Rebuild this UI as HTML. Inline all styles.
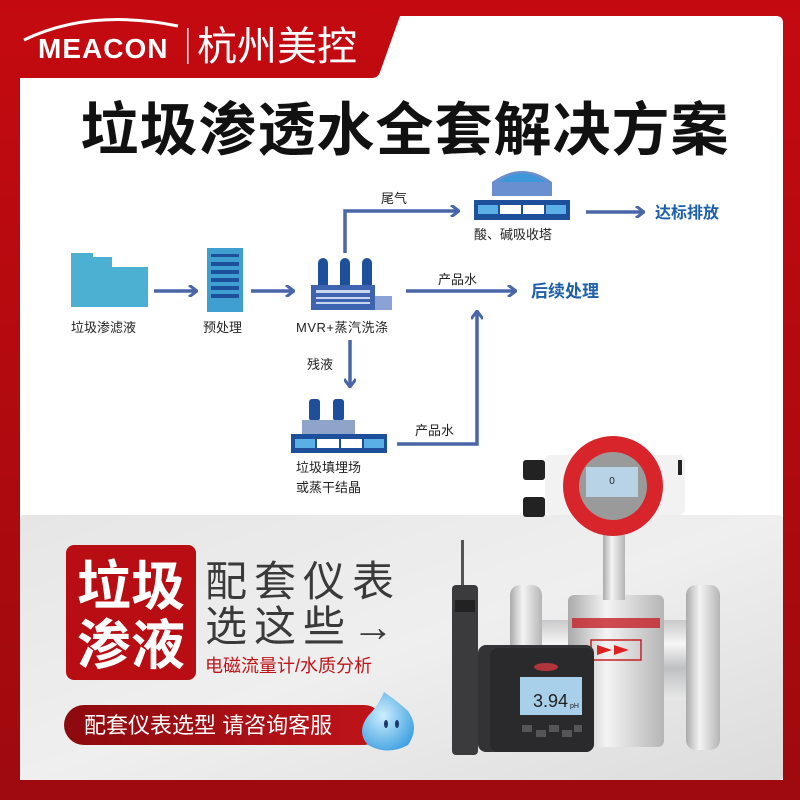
<!DOCTYPE html>
<html><head><meta charset="utf-8"><style>
body{margin:0;width:800px;height:800px;overflow:hidden;background:#b80a10}
svg{display:block}
text{font-family:"Liberation Sans","Noto Sans CJK SC",sans-serif}
</style></head><body>
<svg width="800" height="800" viewBox="0 0 800 800" xmlns="http://www.w3.org/2000/svg">
<defs>
<linearGradient id="bg" x1="0" y1="0" x2="0" y2="1"><stop offset="0" stop-color="#c40a10"/><stop offset="1" stop-color="#9e0a0e"/></linearGradient>
<linearGradient id="gray" x1="0" y1="0" x2="1" y2="1"><stop offset="0" stop-color="#e6e6e6"/><stop offset="0.5" stop-color="#efefef"/><stop offset="1" stop-color="#dcdcdc"/></linearGradient>
<linearGradient id="metal" x1="0" y1="0" x2="0" y2="1"><stop offset="0" stop-color="#c9c9cb"/><stop offset="0.3" stop-color="#f6f6f6"/><stop offset="0.6" stop-color="#bfc0c2"/><stop offset="1" stop-color="#e8e8e8"/></linearGradient>
<linearGradient id="metalh" x1="0" y1="0" x2="1" y2="0"><stop offset="0" stop-color="#aaa"/><stop offset="0.4" stop-color="#f4f4f4"/><stop offset="1" stop-color="#b5b5b5"/></linearGradient>
<linearGradient id="pill" x1="0" y1="0" x2="1" y2="0"><stop offset="0" stop-color="#8c0a0e"/><stop offset="1" stop-color="#c0141a"/></linearGradient>
<radialGradient id="drop" cx="0.4" cy="0.4" r="0.7"><stop offset="0" stop-color="#cdeefe"/><stop offset="1" stop-color="#3a9ee0"/></radialGradient>
<marker id="ah" markerWidth="10" markerHeight="12" refX="8" refY="6" orient="auto" markerUnits="userSpaceOnUse"><path d="M1,0 L9,6 L1,12" fill="none" stroke="#4866a8" stroke-width="3"/></marker>
</defs>
<rect width="800" height="800" fill="url(#bg)"/>
<!-- white panel -->
<path d="M20,78 L372,78 Q378,78 380,72 L400,16 L776,16 Q783,16 783,23 L783,780 L20,780 Z" fill="#fff"/>
<rect x="20" y="515" width="763" height="265" rx="4" fill="url(#gray)"/>
<!-- logo -->
<path d="M24,40 Q90,8 178,26" fill="none" stroke="#fff" stroke-width="3"/>
<text x="38" y="58" font-size="28" font-weight="bold" fill="#fff" letter-spacing="1">MEACON</text>
<rect x="187" y="28" width="1.5" height="36" fill="#fff"/>
<text x="197" y="60" font-size="40" fill="#fff">杭州美控</text>
<!-- title -->
<text x="405" y="150" font-size="58" font-weight="bold" fill="#111" text-anchor="middle" letter-spacing="1">垃圾渗透水全套解决方案</text>
<!-- flow -->
<g stroke="#4866a8" stroke-width="3.5" fill="none">
<line x1="154" y1="291" x2="196" y2="291" marker-end="url(#ah)"/>
<line x1="251" y1="291" x2="293" y2="291" marker-end="url(#ah)"/>
<polyline points="345,253 345,211 458,211" marker-end="url(#ah)"/>
<line x1="586" y1="212" x2="643" y2="212" marker-end="url(#ah)"/>
<line x1="406" y1="291" x2="515" y2="291" marker-end="url(#ah)"/>
<line x1="350" y1="340" x2="350" y2="386" marker-end="url(#ah)"/>
<polyline points="397,444 477,444 477,312" marker-end="url(#ah)"/>
</g>
<!-- folder -->
<path d="M71,253 L93,253 L93,257 L112,257 L112,267 L148,267 L148,307 L71,307 Z" fill="#4bb0d2"/>
<!-- tower -->
<rect x="207" y="248" width="36" height="64" fill="#3f9fd0"/>
<g fill="#1e4f9a"><rect x="211" y="254" width="28" height="3"/><rect x="211" y="262" width="28" height="4"/><rect x="211" y="270" width="28" height="4"/><rect x="211" y="278" width="28" height="4"/><rect x="211" y="286" width="28" height="4"/><rect x="211" y="294" width="28" height="4"/></g>
<!-- MVR -->
<g fill="#1e4f9a"><rect x="318" y="258" width="10" height="32" rx="5"/><rect x="340" y="258" width="10" height="32" rx="5"/><rect x="362" y="258" width="10" height="32" rx="5"/></g>
<rect x="311" y="285" width="64" height="25" fill="#3e63b0"/>
<rect x="375" y="296" width="17" height="14" fill="#8aa3d4"/>
<g fill="#c8d6f0"><rect x="316" y="290" width="54" height="3"/><rect x="316" y="297" width="54" height="2"/><rect x="316" y="302" width="54" height="2"/></g>
<!-- acid tower -->
<path d="M492,196 L492,182 Q522,160 552,182 L552,196 Z" fill="#6a8fd0"/>
<path d="M498,182 Q522,165 546,182Z" fill="#3d97d8"/>
<rect x="474" y="200" width="96" height="20" fill="#1e4f9a"/>
<g fill="#5ab0e6"><rect x="478" y="205" width="20" height="9"/><rect x="546" y="205" width="20" height="9"/></g>
<g fill="#fff"><rect x="500" y="205" width="21" height="9"/><rect x="523" y="205" width="21" height="9"/></g>
<!-- landfill -->
<g fill="#1e4f9a"><rect x="309" y="399" width="11" height="22" rx="3"/><rect x="333" y="399" width="11" height="22" rx="3"/></g>
<rect x="302" y="420" width="53" height="14" fill="#8ea4c9"/>
<rect x="291" y="434" width="96" height="19" fill="#1e4f9a"/>
<g fill="#5ab0e6"><rect x="295" y="439" width="20" height="9"/><rect x="364" y="439" width="20" height="9"/></g>
<g fill="#fff"><rect x="317" y="439" width="22" height="9"/><rect x="341" y="439" width="21" height="9"/></g>
<!-- labels -->
<g font-size="13" fill="#222">
<text x="71" y="332">垃圾渗滤液</text>
<text x="203" y="332">预处理</text>
<text x="296" y="332" letter-spacing="0.5">MVR+蒸汽洗涤</text>
<text x="381" y="203">尾气</text>
<text x="474" y="239">酸、碱吸收塔</text>
<text x="438" y="284">产品水</text>
<text x="307" y="369">残液</text>
<text x="415" y="435">产品水</text>
<text x="296" y="472">垃圾填埋场</text>
<text x="296" y="492">或蒸干结晶</text>
</g>
<text x="655" y="218" font-size="16" font-weight="bold" fill="#1d5fa8">达标排放</text>
<text x="531" y="297" font-size="17" font-weight="bold" fill="#1d5fa8">后续处理</text>
<!-- bottom promo -->
<rect x="66" y="545" width="130" height="135" rx="8" fill="#b80d12"/>
<text x="131" y="605" font-size="54" font-weight="bold" fill="#fff" text-anchor="middle">垃圾</text>
<text x="131" y="664" font-size="54" font-weight="bold" fill="#fff" text-anchor="middle">渗液</text>
<text x="205" y="596" font-size="42" fill="#3a3a3a" letter-spacing="7">配套仪表</text>
<text x="205" y="641" font-size="42" fill="#3a3a3a" letter-spacing="7">选这些→</text>
<text x="205" y="672" font-size="18" fill="#c0141a">电磁流量计/水质分析</text>
<rect x="64" y="705" width="320" height="40" rx="20" fill="url(#pill)"/>
<text x="84" y="733" font-size="22" fill="#fff">配套仪表选型 请咨询客服</text>
<path d="M384,692 Q378,706 368,716 Q356,732 368,745 Q388,756 408,745 Q420,728 408,711 Q396,700 384,692Z" fill="url(#drop)"/>
<g fill="#1a3a6a"><ellipse cx="386" cy="724" rx="2" ry="4"/><ellipse cx="397" cy="724" rx="2" ry="4"/></g>
<!-- flowmeter -->
<rect x="535" y="620" width="160" height="80" fill="url(#metal)"/>
<rect x="510" y="585" width="32" height="160" rx="10" fill="url(#metalh)"/>
<rect x="686" y="585" width="34" height="165" rx="10" fill="url(#metalh)"/>
<rect x="568" y="595" width="96" height="152" rx="6" fill="url(#metalh)"/>
<rect x="572" y="618" width="88" height="10" fill="#c52025" opacity="0.8"/>
<rect x="591" y="640" width="50" height="20" fill="none" stroke="#c52025" stroke-width="1.5"/>
<path d="M597,645 L612,650 L597,655Z M614,645 L629,650 L614,655Z" fill="#d22"/>
<rect x="603" y="535" width="22" height="65" fill="url(#metalh)"/>
<rect x="545" y="455" width="140" height="60" rx="6" fill="#f2f2f2"/>
<rect x="523" y="460" width="22" height="20" rx="3" fill="#222"/>
<rect x="523" y="497" width="22" height="20" rx="3" fill="#222"/>
<rect x="678" y="460" width="4" height="15" fill="#222"/>
<circle cx="613" cy="486" r="50" fill="#d8242b"/>
<circle cx="613" cy="486" r="34" fill="#9a9a9a"/>
<rect x="586" y="467" width="52" height="30" fill="#b9d3e6"/>
<text x="612" y="484" font-size="10" fill="#222" text-anchor="middle">0</text>
<!-- probe -->
<rect x="461" y="540" width="3" height="45" fill="#555"/>
<rect x="452" y="585" width="26" height="170" rx="4" fill="#3b3b3e"/>
<rect x="455" y="600" width="20" height="12" fill="#222"/>
<!-- controller -->
<rect x="478" y="645" width="116" height="107" rx="8" fill="#333336"/>
<rect x="490" y="648" width="104" height="104" rx="8" fill="#2a2a2d"/>
<ellipse cx="546" cy="667" rx="12" ry="4" fill="#b1353a"/>
<rect x="520" y="677" width="62" height="38" fill="#a9d0ea"/>
<text x="533" y="707" font-size="18" fill="#222">3.94</text>
<text x="570" y="708" font-size="7" fill="#222">pH</text>
<g fill="#555"><rect x="522" y="725" width="10" height="7"/><rect x="536" y="730" width="10" height="7"/><rect x="549" y="725" width="10" height="7"/><rect x="562" y="730" width="10" height="7"/><rect x="574" y="725" width="8" height="7"/></g>
</svg>
</body></html>
